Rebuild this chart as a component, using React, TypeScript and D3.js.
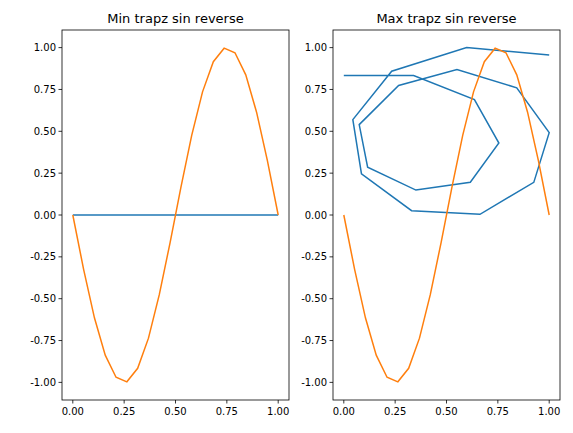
import * as d3 from 'd3';

const xs = [0, 0.0526, 0.1053, 0.1579, 0.2105, 0.2632, 0.3158, 0.3684, 0.4211, 0.4737, 0.5263, 0.5789, 0.6316, 0.6842, 0.7368, 0.7895, 0.8421, 0.8947, 0.9474, 1];
const sinRev = [0, -0.3247, -0.6142, -0.8372, -0.9694, -0.9966, -0.9158, -0.7357, -0.4759, -0.1646, 0.1646, 0.4759, 0.7357, 0.9158, 0.9966, 0.9694, 0.8372, 0.6142, 0.3247, 0];
const minX = [0, 0.0526, 0.1053, 0.1579, 0.2105, 0.2632, 0.3158, 0.3684, 0.4211, 0.4737, 0.5263, 0.5789, 0.6316, 0.6842, 0.7368, 0.7895, 0.8421, 0.8947, 0.9474, 1];
const minY = [0, 0, 0, 0, 0, 0, 0, 0, 0, 0, 0, 0, 0, 0, 0, 0, 0, 0, 0, 0];
const maxX = [0, 0.34, 0.636, 0.755, 0.616, 0.351, 0.116, 0.075, 0.267, 0.551, 0.842, 1.0, 0.925, 0.663, 0.33, 0.086, 0.044, 0.233, 0.598, 1.0];
const maxY = [0.833, 0.833, 0.689, 0.43, 0.196, 0.149, 0.286, 0.54, 0.774, 0.869, 0.76, 0.492, 0.195, 0.004, 0.026, 0.246, 0.57, 0.859, 1.0, 0.956];
const xTicks = [0, 0.25, 0.5, 0.75, 1];
const yTicks = [-1, -0.75, -0.5, -0.25, 0, 0.25, 0.5, 0.75, 1];
const titles = ['Min trapz sin reverse', 'Max trapz sin reverse'];

const panels = [
  { left: 62, right: 289, title: titles[0], bx: minX, by: minY },
  { left: 333, right: 560, title: titles[1], bx: maxX, by: maxY },
];
const top = 30;
const bottom = 400;

function Panel({ left, right, title, bx, by }: any) {
  const pad = (right - left) * 0.0476;
  const x = d3.scaleLinear().domain([0, 1]).range([left + pad, right - pad]);
  const ypad = (bottom - top) * 0.0476;
  const y = d3.scaleLinear().domain([-1, 1]).range([bottom - ypad, top + ypad]);
  const line = d3.line<number>().x((_, i) => x(bx[i])).y((d) => y(d));
  const line2 = d3.line<number>().x((_, i) => x(xs[i])).y((d) => y(d));
  return (
    <g>
      <path d={line(by) || ''} fill="none" stroke="#1f77b4" strokeWidth={1.5} />
      <path d={line2(sinRev) || ''} fill="none" stroke="#ff7f0e" strokeWidth={1.5} />
      <rect x={left} y={top} width={right - left} height={bottom - top} fill="none" stroke="#000" strokeWidth={0.8} />
      {xTicks.map((t) => (
        <g key={t}>
          <line x1={x(t)} x2={x(t)} y1={bottom} y2={bottom + 3.5} stroke="#000" strokeWidth={0.8} />
          <text x={x(t)} y={bottom + 15} textAnchor="middle" fontSize={10}>{t.toFixed(2)}</text>
        </g>
      ))}
      {yTicks.map((t) => (
        <g key={t}>
          <line x1={left - 3.5} x2={left} y1={y(t)} y2={y(t)} stroke="#000" strokeWidth={0.8} />
          <text x={left - 6} y={y(t) + 3.5} textAnchor="end" fontSize={10}>{t.toFixed(2)}</text>
        </g>
      ))}
      <text x={(left + right) / 2} y={top - 7} textAnchor="middle" fontSize={13}>{title}</text>
    </g>
  );
}

export default function App() {
  return (
    <svg width={573} height={433} style={{ position: 'absolute', left: 0, top: 0, fontFamily: 'DejaVu Sans' }}>
      <rect width={573} height={433} fill="#fff" />
      {panels.map((p) => <Panel key={p.title} {...p} />)}
    </svg>
  );
}
